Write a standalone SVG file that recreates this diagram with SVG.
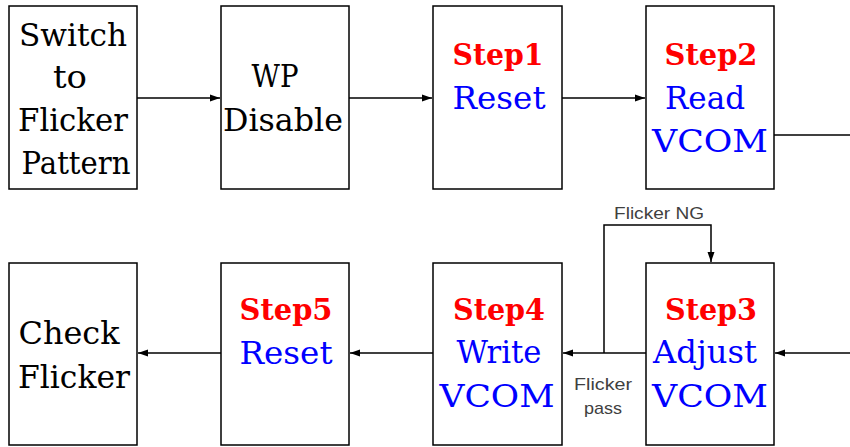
<svg xmlns="http://www.w3.org/2000/svg" width="850" height="447" viewBox="0 0 850 447">
<defs>
<marker id="ah" markerWidth="10" markerHeight="8" refX="10" refY="4" orient="auto" markerUnits="userSpaceOnUse">
<path d="M0,0.5 L10,4 L0,7.5 Z" fill="#000"/>
</marker>
<style>
.box{fill:#fff;stroke:#000;stroke-width:1.5}
.t{font-family:"DejaVu Serif","Liberation Serif",serif;font-size:32px;fill:#000;text-anchor:middle}
.s{font-family:"DejaVu Serif","Liberation Serif",serif;font-size:30px;font-weight:bold;fill:#ff0000;text-anchor:middle}
.b{font-family:"DejaVu Serif","Liberation Serif",serif;font-size:32px;fill:#0000ff;text-anchor:middle}
.l{font-family:"Liberation Sans",Arial,sans-serif;font-size:17px;fill:#404040;text-anchor:middle}
.c{fill:none;stroke:#000;stroke-width:1.5}
</style>
</defs>
<rect width="850" height="447" fill="#fff"/>
<g id="connectors">
<line class="c" x1="137" y1="98" x2="220" y2="98" marker-end="url(#ah)"/>
<line class="c" x1="349" y1="98" x2="432" y2="98" marker-end="url(#ah)"/>
<line class="c" x1="562" y1="98" x2="645" y2="98" marker-end="url(#ah)"/>
<line class="c" x1="774" y1="135" x2="850" y2="135"/>
<line class="c" x1="850" y1="353" x2="775" y2="353" marker-end="url(#ah)"/>
<line class="c" x1="646" y1="353" x2="563" y2="353" marker-end="url(#ah)"/>
<polyline class="c" points="604,353 604,225 711,225 711,262" marker-end="url(#ah)"/>
<line class="c" x1="433" y1="353" x2="350" y2="353" marker-end="url(#ah)"/>
<line class="c" x1="221" y1="353" x2="138" y2="353" marker-end="url(#ah)"/>
<text class="l" x="659" y="219" textLength="90" lengthAdjust="spacingAndGlyphs">Flicker NG</text>
<text class="l" x="603" y="390" textLength="58" lengthAdjust="spacingAndGlyphs">Flicker</text>
<text class="l" x="603" y="414" textLength="38" lengthAdjust="spacingAndGlyphs">pass</text>
</g>
<g id="switch">
<rect class="box" x="9" y="6" width="128" height="183"/>
<text class="t" x="73" y="46" textLength="108" lengthAdjust="spacingAndGlyphs">Switch</text>
<text class="t" x="70" y="88" textLength="34" lengthAdjust="spacingAndGlyphs">to</text>
<text class="t" x="73" y="131" textLength="110" lengthAdjust="spacingAndGlyphs">Flicker</text>
<text class="t" x="76" y="174" textLength="109" lengthAdjust="spacingAndGlyphs">Pattern</text>
</g>
<g id="wp">
<rect class="box" x="221" y="6" width="128" height="183"/>
<text class="t" x="275" y="87" textLength="47" lengthAdjust="spacingAndGlyphs">WP</text>
<text class="t" x="283" y="131" textLength="120" lengthAdjust="spacingAndGlyphs">Disable</text>
</g>
<g id="step1">
<rect class="box" x="433" y="6" width="129" height="183"/>
<text class="s" x="498" y="65" textLength="91" lengthAdjust="spacingAndGlyphs">Step1</text>
<text class="b" x="499" y="109" textLength="93" lengthAdjust="spacingAndGlyphs">Reset</text>
</g>
<g id="step2">
<rect class="box" x="646" y="6" width="128" height="183"/>
<text class="s" x="711" y="65" textLength="93" lengthAdjust="spacingAndGlyphs">Step2</text>
<text class="b" x="705" y="109" textLength="80" lengthAdjust="spacingAndGlyphs">Read</text>
<text class="b" x="710" y="152" textLength="116" lengthAdjust="spacingAndGlyphs">VCOM</text>
</g>
<g id="check">
<rect class="box" x="9" y="263" width="128" height="182"/>
<text class="t" x="69" y="344" textLength="101" lengthAdjust="spacingAndGlyphs">Check</text>
<text class="t" x="74" y="388" textLength="112" lengthAdjust="spacingAndGlyphs">Flicker</text>
</g>
<g id="step5">
<rect class="box" x="221" y="263" width="128" height="182"/>
<text class="s" x="286" y="320" textLength="93" lengthAdjust="spacingAndGlyphs">Step5</text>
<text class="b" x="286" y="364" textLength="93" lengthAdjust="spacingAndGlyphs">Reset</text>
</g>
<g id="step4">
<rect class="box" x="433" y="263" width="129" height="182"/>
<text class="s" x="499" y="320" textLength="92" lengthAdjust="spacingAndGlyphs">Step4</text>
<text class="b" x="499" y="363" textLength="85" lengthAdjust="spacingAndGlyphs">Write</text>
<text class="b" x="497" y="407" textLength="115" lengthAdjust="spacingAndGlyphs">VCOM</text>
</g>
<g id="step3">
<rect class="box" x="646" y="263" width="128" height="182"/>
<text class="s" x="711" y="320" textLength="92" lengthAdjust="spacingAndGlyphs">Step3</text>
<text class="b" x="705" y="363" textLength="104" lengthAdjust="spacingAndGlyphs">Adjust</text>
<text class="b" x="710" y="407" textLength="116" lengthAdjust="spacingAndGlyphs">VCOM</text>
</g>
</svg>
